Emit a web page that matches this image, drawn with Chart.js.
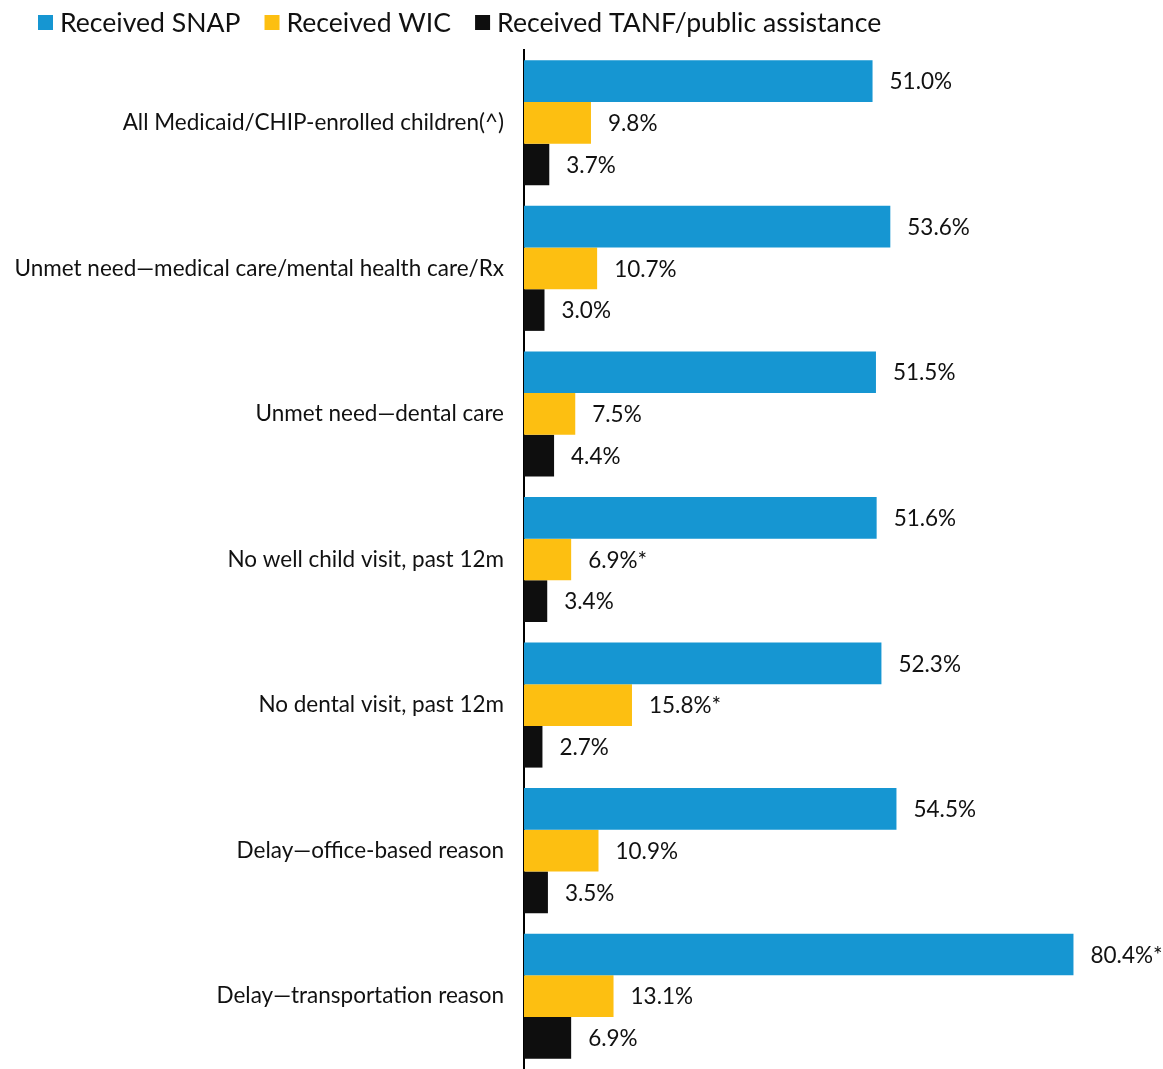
<!DOCTYPE html>
<html>
<head>
<meta charset="utf-8">
<title>Benefit receipt among Medicaid/CHIP-enrolled children</title>
<script src="https://cdn.jsdelivr.net/npm/chart.js@4.4.1/dist/chart.umd.min.js"></script>
<style>
  html, body { margin: 0; padding: 0; background: #fff; }
  #chart { display: block; }
</style>
</head>
<body>
<canvas id="chart" width="1163" height="1069"></canvas>
<script>
const categories = [
    'All Medicaid/CHIP-enrolled children(^)',
    'Unmet need\u2014medical care/mental health care/Rx',
    'Unmet need\u2014dental care',
    'No well child visit, past 12m',
    'No dental visit, past 12m',
    'Delay\u2014office-based reason',
    'Delay\u2014transportation reason'
];

const snapValues = [51.0, 53.6, 51.5, 51.6, 52.3, 54.5, 80.4];
const wicValues  = [9.8, 10.7, 7.5, 6.9, 15.8, 10.9, 13.1];
const tanfValues = [3.7, 3.0, 4.4, 3.4, 2.7, 3.5, 6.9];

// significance markers (*) shown after the value
const snapSig = [false, false, false, false, false, false, true];
const wicSig  = [false, false, false, true, true, false, false];
const tanfSig = [false, false, false, false, false, false, false];

const FONT = 'Lato, "DejaVu Sans", sans-serif';
const TEXT_COLOR = '#111111';

// legend drawn by hand so the box/text spacing stays tight
const legendPlugin = {
    id: 'topLegend',
    afterDraw(chart) {
        const ctx = chart.ctx;
        ctx.save();
        ctx.font = '26.6px ' + FONT;
        ctx.textBaseline = 'middle';
        ctx.textAlign = 'left';
        let x = 38;
        const cy = 22.5;
        chart.data.datasets.forEach(ds => {
            ctx.fillStyle = ds.backgroundColor;
            ctx.fillRect(x, cy - 7.5, 15, 15);
            ctx.fillStyle = TEXT_COLOR;
            ctx.fillText(ds.label, x + 22, cy + 1);
            x += 22 + ctx.measureText(ds.label).width + 24;
        });
        ctx.restore();
    }
};

// value labels to the right of each bar
const valueLabels = {
    id: 'valueLabels',
    afterDatasetsDraw(chart) {
        const ctx = chart.ctx;
        ctx.save();
        ctx.font = '22.5px ' + FONT;
        ctx.fillStyle = TEXT_COLOR;
        ctx.textBaseline = 'middle';
        ctx.textAlign = 'left';
        chart.data.datasets.forEach((ds, i) => {
            chart.getDatasetMeta(i).data.forEach((bar, j) => {
                const txt = ds.data[j].toFixed(1) + '%' + (ds.sig[j] ? '*' : '');
                ctx.fillText(txt, bar.x + 17, bar.y + 1);
            });
        });
        ctx.restore();
    }
};

function drawChart() {
    const ctx = document.getElementById('chart').getContext('2d');
    new Chart(ctx, {
        type: 'bar',
        data: {
            labels: categories,
            datasets: [
                { label: 'Received SNAP', data: snapValues, sig: snapSig, backgroundColor: '#1696d2' },
                { label: 'Received WIC', data: wicValues, sig: wicSig, backgroundColor: '#fdbf11' },
                { label: 'Received TANF/public assistance', data: tanfValues, sig: tanfSig, backgroundColor: '#0e0e0e' }
            ]
        },
        options: {
            indexAxis: 'y',
            responsive: false,
            animation: false,
            datasets: {
                bar: { barPercentage: 1, categoryPercentage: 0.859 }
            },
            // last category runs slightly past the bottom edge
            layout: { padding: { top: 50, left: 0, right: 0, bottom: -4 } },
            scales: {
                x: { display: false, min: 0, max: 93.5 },
                y: {
                    grid: { display: false, drawTicks: false },
                    border: { display: true, color: '#000000', width: 2 },
                    ticks: {
                        padding: 20,
                        color: TEXT_COLOR,
                        font: { family: FONT, size: 22.5 }
                    },
                    afterFit(scale) {
                        // fixed axis width, and no extra vertical padding from tick labels
                        scale.width = 524;
                        scale.paddingTop = 0;
                        scale.paddingBottom = 0;
                    }
                }
            },
            plugins: {
                legend: { display: false },
                tooltip: { enabled: false }
            }
        },
        plugins: [legendPlugin, valueLabels]
    });
}

if (document.fonts && document.fonts.load) {
    Promise.all([document.fonts.load('22px Lato'), document.fonts.load('26px Lato')])
        .then(drawChart, drawChart);
} else {
    drawChart();
}
</script>
</body>
</html>
